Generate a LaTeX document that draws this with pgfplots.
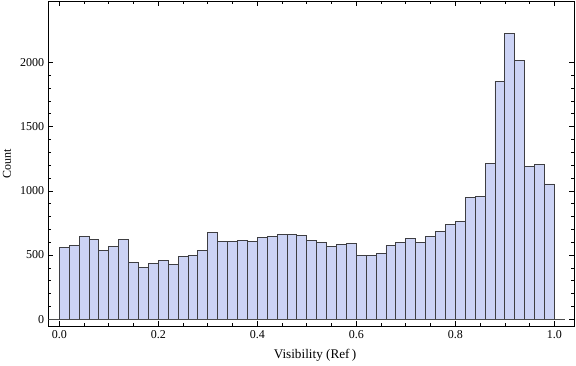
\documentclass[border=0pt]{standalone}
\usepackage{fontspec}
\setmainfont{Liberation Serif}
\usepackage{pgfplots}
\usepackage{pgfplotstable}
\pgfplotsset{compat=1.18}
\definecolor{barfill}{RGB}{204,211,245}
\definecolor{baredge}{RGB}{62,62,66}
\pgfplotstableread{
x y
0.00 560
0.02 576
0.04 646
0.06 623
0.08 537
0.10 568
0.12 623
0.14 444
0.16 405
0.18 436
0.20 459
0.22 428
0.24 490
0.26 498
0.28 537
0.30 677
0.32 607
0.34 607
0.36 615
0.38 607
0.40 638
0.42 646
0.44 661
0.46 661
0.48 654
0.50 615
0.52 599
0.54 568
0.56 584
0.58 591
0.60 498
0.62 498
0.64 514
0.66 576
0.68 599
0.70 630
0.72 599
0.74 646
0.76 687
0.78 739
0.80 765
0.82 949
0.84 957
0.86 1214
0.88 1854
0.90 2226
0.92 2015
0.94 1190
0.96 1206
0.98 1053
1.00 1053
}\histdata
\begin{document}
\fontsize{12}{14}\selectfont
\begin{tikzpicture}
\useasboundingbox (-48.3pt,-40pt) rectangle (527.7pt,326pt);
\begin{axis}[
  scale only axis, width=526pt, height=325pt,
  xmin=-0.0222, xmax=1.0404, ymin=-52, ymax=2477,
  axis line style={line width=0.8pt, black},
  tick align=inside,
  xtick={0,0.2,0.4,0.6,0.8,1.0},
  xticklabels={0.0,0.2,0.4,0.6,0.8,1.0},
  minor x tick num=3,
  ytick={0,500,1000,1500,2000},
  minor y tick num=4,
  major tick length=5pt, minor tick length=3pt,
  tick style={black, line width=0.6pt},
  /pgf/number format/assume math mode=true,
  /pgf/number format/1000 sep={},
  ticklabel style={font=\fontsize{12}{14}\selectfont},
  every axis x label/.style={at={([yshift=-33pt]axis description cs:0.507,0)}, anchor=base, font=\fontsize{13.2}{15}\selectfont},
  every axis y label/.style={at={([xshift=-41.3pt]axis description cs:0,0.5)}, anchor=center, rotate=90},
  xlabel={Visibility (Ref\,)},
  ylabel={Count},
]
\addplot[ybar interval, fill=barfill, draw=baredge, line width=0.8pt] table[x=x,y=y] {\histdata};
\draw[black!70, line width=0.6pt] (axis cs:-0.0222,0) -- (axis cs:1.0216,0);
\end{axis}
\end{tikzpicture}
\end{document}
